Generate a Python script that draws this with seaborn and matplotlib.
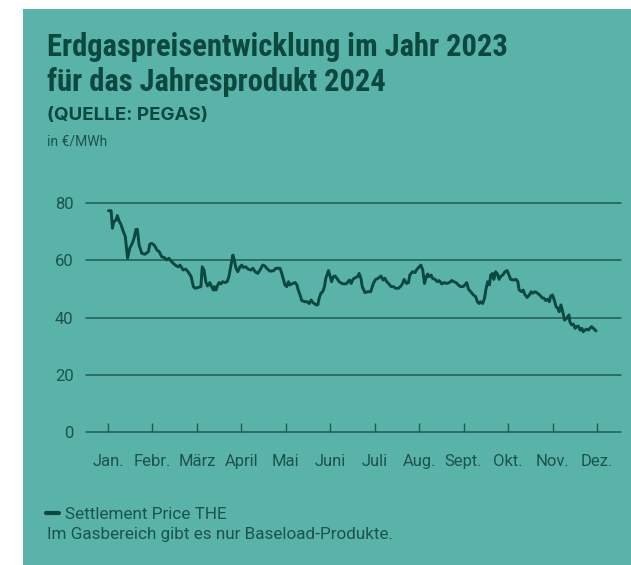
import numpy as np
import pandas as pd
import seaborn as sns
import matplotlib.pyplot as plt
from matplotlib import font_manager
from matplotlib.patches import Rectangle

# ---- data (x = position in months from January tick, y = €/MWh) ----
month_pos = [0.01, 0.07, 0.10, 0.13, 0.18, 0.21, 0.25, 0.29, 0.34, 0.39, 0.44, 0.49, 0.55, 0.59, 0.63, 0.66,
             0.70, 0.76, 0.83, 0.91, 0.94, 0.98, 1.04, 1.10, 1.15, 1.21, 1.27, 1.32, 1.37, 1.42, 1.47, 1.53,
             1.58, 1.62, 1.69, 1.75, 1.81, 1.87, 1.92, 1.96, 2.03, 2.09, 2.12, 2.16, 2.20, 2.24, 2.29, 2.33,
             2.37, 2.39, 2.43, 2.47, 2.50, 2.54, 2.58, 2.63, 2.68, 2.72, 2.76, 2.81, 2.84, 2.88, 2.92, 2.97,
             3.01, 3.04, 3.10, 3.16, 3.22, 3.26, 3.31, 3.37, 3.42, 3.48, 3.53, 3.57, 3.64, 3.72, 3.78, 3.87,
             3.91, 3.94, 3.98, 4.02, 4.06, 4.09, 4.16, 4.21, 4.25, 4.28, 4.32, 4.36, 4.43, 4.48, 4.53, 4.57,
             4.61, 4.64, 4.68, 4.72, 4.75, 4.79, 4.83, 4.87, 4.90, 4.96, 4.99, 5.03, 5.07, 5.11, 5.15, 5.20,
             5.26, 5.31, 5.37, 5.43, 5.47, 5.51, 5.56, 5.62, 5.65, 5.69, 5.72, 5.78, 5.84, 5.91, 5.97, 6.02,
             6.08, 6.14, 6.19, 6.23, 6.27, 6.31, 6.37, 6.42, 6.47, 6.53, 6.58, 6.63, 6.66, 6.72, 6.76, 6.79,
             6.85, 6.91, 6.94, 7.00, 7.04, 7.08, 7.12, 7.15, 7.19, 7.22, 7.27, 7.30, 7.36, 7.41, 7.45, 7.51,
             7.56, 7.62, 7.68, 7.73, 7.78, 7.83, 7.88, 7.93, 7.99, 8.03, 8.07, 8.11, 8.16, 8.22, 8.27, 8.31,
             8.35, 8.38, 8.43, 8.47, 8.50, 8.54, 8.58, 8.61, 8.65, 8.68, 8.72, 8.76, 8.80, 8.83, 8.88, 8.93,
             8.98, 9.02, 9.06, 9.12, 9.18, 9.22, 9.25, 9.31, 9.34, 9.38, 9.43, 9.48, 9.52, 9.55, 9.61, 9.66,
             9.71, 9.76, 9.81, 9.85, 9.89, 9.93, 9.96, 10.00, 10.04, 10.08, 10.12, 10.15, 10.19, 10.23, 10.27,
             10.32, 10.37, 10.39, 10.43, 10.47, 10.51, 10.54, 10.58, 10.62, 10.66, 10.69, 10.73, 10.77, 10.81,
             10.84, 10.88, 10.92, 10.96, 10.98]
price = [77.3, 77.3, 71.2, 73.5, 74.0, 75.6, 73.7, 72.6, 70.2, 68.2, 60.7, 64.2, 66.1, 67.9, 70.8, 70.8,
         65.3, 62.4, 62.1, 63.0, 65.6, 65.9, 65.3, 63.6, 63.0, 61.2, 60.9, 60.1, 60.7, 59.7, 58.9, 58.1,
         57.7, 58.3, 56.6, 56.9, 55.8, 54.3, 50.8, 50.2, 50.5, 50.8, 57.7, 56.6, 52.5, 51.0, 52.2, 50.8,
         49.6, 50.8, 49.6, 51.4, 52.2, 51.7, 52.5, 52.2, 52.5, 54.3, 57.7, 61.8, 60.1, 57.2, 56.0, 57.7,
         58.3, 57.5, 57.7, 56.8, 56.6, 57.2, 56.0, 55.4, 56.6, 58.3, 58.0, 57.2, 56.2, 56.3, 57.2, 57.2,
         55.4, 53.7, 51.4, 50.8, 52.5, 51.4, 51.9, 52.2, 51.4, 49.6, 47.9, 45.9, 45.5, 45.5, 44.9, 46.1,
         45.2, 44.9, 44.4, 44.4, 46.7, 48.5, 49.0, 50.8, 53.7, 56.4, 54.8, 52.5, 54.3, 54.5, 53.7, 52.5,
         51.9, 51.7, 51.9, 53.1, 51.9, 53.3, 53.9, 54.3, 55.4, 53.7, 50.8, 48.7, 49.0, 49.0, 51.9, 53.3,
         53.7, 54.5, 53.1, 53.7, 52.5, 51.9, 50.8, 50.8, 50.2, 50.2, 50.8, 51.9, 53.3, 51.9, 52.2, 54.8,
         56.0, 55.7, 56.6, 57.7, 58.3, 56.6, 51.9, 53.7, 55.2, 54.3, 54.8, 53.7, 53.3, 52.5, 52.9, 51.7,
         52.2, 51.9, 52.2, 52.9, 52.5, 52.2, 51.4, 50.8, 50.8, 51.4, 52.2, 49.9, 49.0, 47.9, 47.3, 45.5,
         44.9, 45.5, 44.9, 46.7, 49.6, 52.5, 51.4, 54.8, 55.4, 53.3, 56.0, 55.2, 53.3, 54.3, 54.8, 56.0,
         56.4, 54.8, 53.3, 53.1, 53.3, 52.5, 49.6, 49.0, 49.6, 48.0, 47.0, 47.9, 49.0, 48.5, 49.0, 48.5,
         47.9, 47.0, 46.7, 45.9, 46.4, 45.5, 47.5, 47.9, 46.1, 43.8, 43.2, 42.0, 44.4, 42.0, 39.1,
         39.7, 40.9, 38.5, 37.4, 37.7, 36.2, 36.8, 37.0, 35.6, 36.2, 35.0, 35.6, 35.9, 35.6,
         36.2, 36.8, 36.2, 35.6, 35.3]
month_labels = ["Jan.", "Febr.", "März", "April", "Mai", "Juni", "Juli", "Aug.", "Sept.", "Okt.", "Nov.", "Dez."]
y_ticks = [0, 20, 40, 60, 80]

TEAL = "#5ab3a8"
DARK = "#0a4840"
GRID = "#1d5c53"
TXT = "#1a544c"

sns.set_style("white")
fonts = font_manager.fontManager.ttflist
names = {f.name for f in fonts}
body_font = "Roboto" if "Roboto" in names else "DejaVu Sans"
wide_font = "Inter" if "Inter" in names else body_font

title_font, title_stretch, title_size = body_font, "normal", 19.5
for cand in ["Roboto Condensed", "Liberation Sans Narrow", "Open Sans Condensed", "Noto Sans Condensed"]:
    if cand in names:
        title_font, title_stretch, title_size = cand, "normal", 22
        break
else:
    cond = [f.name for f in fonts if str(f.stretch) in ("condensed", "semi-condensed", "75", "87")]
    if cond:
        title_font, title_stretch, title_size = cond[0], "condensed", 22

plt.rcParams["font.family"] = [body_font, "DejaVu Sans"]

W, H = 631, 565
fig = plt.figure(figsize=(W / 100, H / 100), dpi=100, facecolor="white")
fig.patches.append(Rectangle((23 / W, 0), 1 - 23 / W, (H - 9) / H, transform=fig.transFigure,
                             facecolor=TEAL, edgecolor="none", zorder=-10))

ax_left, ax_right = 86 / W, 621 / W
ax_bottom, ax_top = 1 - 432 / H, 1 - 203 / H
ax = fig.add_axes([ax_left, ax_bottom, ax_right - ax_left, ax_top - ax_bottom], zorder=5)
ax.set_facecolor("none")
ax.patch.set_alpha(0)

df = pd.DataFrame({"pos": month_pos, "price": price})
sns.lineplot(data=df, x="pos", y="price", ax=ax, color=DARK, linewidth=2.1,
             label="Settlement Price THE", clip_on=False, zorder=3)

ax.set_xlim((86 - 108) / 44.45, (621 - 108) / 44.45)
ax.set_ylim(0, 80)
for v in y_ticks:
    ax.axhline(v, color=GRID, linewidth=1.1, zorder=1, clip_on=False)
for s in ax.spines.values():
    s.set_visible(False)

ax.set_yticks(y_ticks)
ax.set_yticklabels([str(v) for v in y_ticks], fontsize=12, color=TXT)
ax.tick_params(axis="y", left=False, length=0, pad=9)

ax.set_xticks(range(len(month_labels)))
ax.set_xticklabels(month_labels, fontsize=12, color=TXT)
ax.tick_params(axis="x", bottom=True, direction="in", length=6.5, width=1, color=GRID, pad=16)
ax.set_xlabel("")
ax.set_ylabel("")

leg = ax.legend(loc="lower left", bbox_to_anchor=(46 / W, 1 - 522 / H), bbox_transform=fig.transFigure,
                frameon=False, handlelength=0.75, handletextpad=0.35, borderaxespad=0, borderpad=0,
                fontsize=12.3, labelcolor=TXT)
for h in leg.legend_handles:
    h.set_linewidth(3)

tfam = [title_font, "DejaVu Sans"]
fig.text(47 / W, 1 - 47 / H, "Erdgaspreisentwicklung im Jahr 2023", family=tfam, stretch=title_stretch,
         fontsize=title_size, fontweight="bold", color=DARK, va="center", ha="left")
fig.text(47 / W, 1 - 82 / H, "für das Jahresprodukt 2024", family=tfam, stretch=title_stretch,
         fontsize=title_size, fontweight="bold", color=DARK, va="center", ha="left")
fig.text(47 / W, 1 - 115 / H, "(QUELLE: PEGAS)", family=[wide_font, "DejaVu Sans"], fontsize=13.5,
         fontweight="bold", color=DARK, va="center", ha="left")
fig.text(47 / W, 1 - 141 / H, "in €/MWh", fontsize=10, color=TXT, va="center", ha="left")
fig.text(47 / W, 1 - 535 / H, "Im Gasbereich gibt es nur Baseload-Produkte.", fontsize=12.3, color=TXT,
         va="center", ha="left")

fig.savefig("out.png", dpi=100, facecolor="white")
